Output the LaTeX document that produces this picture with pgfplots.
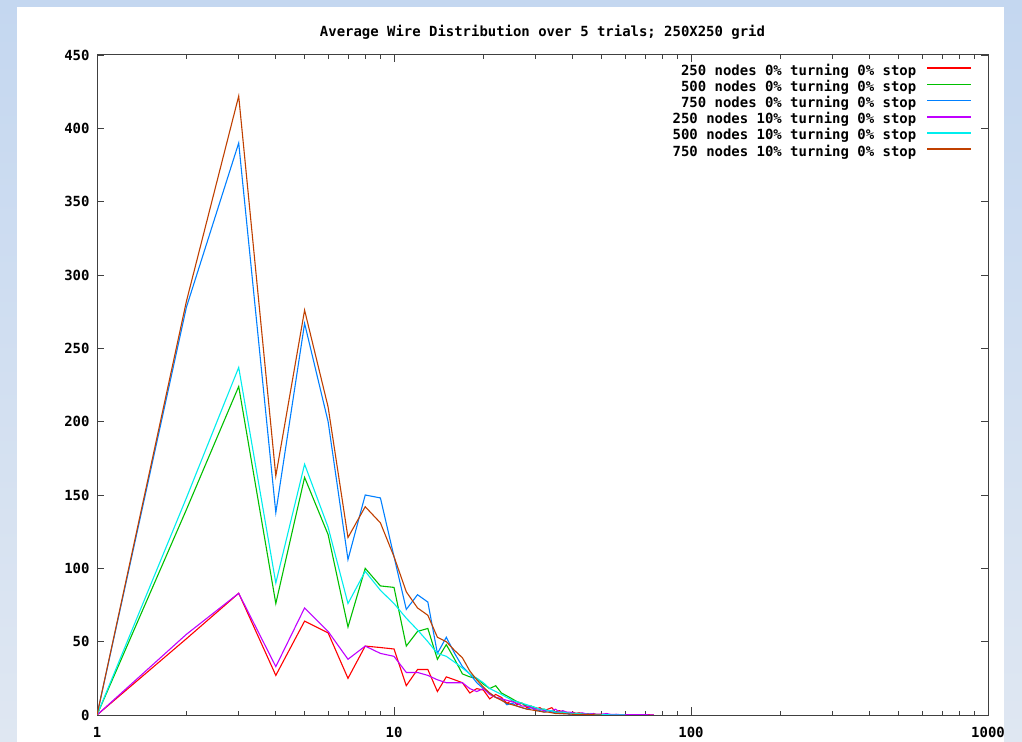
\documentclass[border=0pt]{standalone}
\usepackage{fontspec}
\usepackage{pgfplots}
\pgfplotsset{compat=1.18}
\newfontfamily\gpfont{DejaVu Sans Mono}
\newcommand{\gp}{\gpfont\bfseries\fontsize{14}{16}\selectfont}

\definecolor{gpred}{HTML}{FF0000}
\definecolor{gpgreen}{HTML}{00C000}
\definecolor{gpblue}{HTML}{0080FF}
\definecolor{gpmagenta}{HTML}{C000FF}
\definecolor{gpcyan}{HTML}{00EEEE}
\definecolor{gporange}{HTML}{C04000}
\definecolor{bgtop}{HTML}{C4D7F0}
\definecolor{bgbot}{HTML}{DFE7F2}

\begin{document}
\begin{tikzpicture}
\useasboundingbox (0,0) rectangle (1022bp,742bp);
\shade[top color=bgtop, bottom color=bgbot] (0,0) rectangle (1022bp,742bp);
\fill[white] (17bp,0) rectangle (1004bp,735bp);

\begin{axis}[
    at={(97bp,27bp)}, anchor=south west,
    scale only axis,
    width=891bp, height=660bp,
    xmode=log,
    xmin=1, xmax=1000,
    ymin=0, ymax=450,
    xtick={1,10,100,1000},
    xticklabels={1,10,100,1000},
    minor xtick={2,3,4,5,6,7,8,9,20,30,40,50,60,70,80,90,200,300,400,500,600,700,800,900},
    ytick={0,50,100,150,200,250,300,350,400,450},
    tick align=inside,
    xtick pos=both, ytick pos=both,
    major tick length=7.5bp, minor tick length=4bp,
    axis line style={line width=1bp, black!75},
    every tick/.style={black!75, line width=0.8bp},
    /pgf/number format/assume math mode=true,
    ticklabel style={font=\gp},
    xticklabel style={anchor=center, yshift=-17bp},
    yticklabel style={anchor=east, xshift=-4bp},
    title={Average Wire Distribution over 5 trials; 250X250 grid},
    title style={font=\gp, anchor=center, yshift=17bp},
    legend plot pos=right,
    legend cell align=right,
    legend style={draw=none, fill=none, inner sep=0pt, font=\gp,
        at={(1,1)}, anchor=north east, xshift=-16bp, yshift=-10bp,
        row sep=3.2bp, column sep=10bp,
        nodes={inner sep=0pt, text height=10bp, text depth=3bp}},
    legend image code/.code={\draw[#1, line width=1.6bp] (0bp,3.5bp) -- (44bp,3.5bp);},
    every axis plot/.append style={line width=1.1bp},
]
\addplot[gpred] coordinates {
(1,0)(2,52)(3,83)(4,27)(5,64)(6,56)(7,25)(8,47)(9,46)(10,45)(11,20)(12,31)(13,31)(14,16)(15,26)(16,24)(17,22)(18,15)(19,18)(20,17)
(21,11)(22,14)(23,12)(24,8)(25,10)(26,7)(27,8)(28,5)(29,6)(30,4)(31,5)(32,3)(33,4)(34,5)(35,2)(36,3)(37,2)(38,2)(39,1)(40,2)
(41,1)(42,1.5)(43,1)(44,0.5)(45,1)(46,0.5)(47,1)(48,0.3)(50,0.5)(52,0.2)(55,0.3)(58,0.1)(60,0.2)(65,0)(70,0.3)(75,0)
};
\addlegendentry{250 nodes 0\% turning 0\% stop}
\addplot[gpgreen] coordinates {
(1,0)(2,140)(3,224)(4,76)(5,162)(6,123)(7,60)(8,100)(9,88)(10,87)(11,47)(12,57)(13,59)(14,38)(15,48)(16,38)(17,28)(18,26)(19,25)(20,21)
(21,18)(22,20)(23,15)(24,13)(25,11)(26,9)(27,8)(28,6)(29,6)(30,5)(31,4)(32,4)(33,3)(34,3)(35,2)(36,2)(37,2)(38,1.5)(39,1)(40,1)
(42,1)(44,0.5)(46,0.5)(48,0.3)(50,0.3)(55,0.1)(60,0)
};
\addlegendentry{500 nodes 0\% turning 0\% stop}
\addplot[gpblue] coordinates {
(1,0)(2,278)(3,390)(4,138)(5,267)(6,200)(7,106)(8,150)(9,148)(10,108)(11,72)(12,82)(13,77)(14,42)(15,53)(16,42)(17,33)(18,28)(19,22)(20,18)
(21,15)(22,12)(23,11)(24,7)(25,8)(26,6)(27,5)(28,4)(29,5)(30,3)(31,3)(32,2)(33,3)(34,2)(35,1.5)(36,1)(37,1)(38,1)(39,0.5)(40,1)
(42,0.5)(44,0.3)(46,0.2)(48,0.2)(50,0.1)(55,0)
};
\addlegendentry{750 nodes 0\% turning 0\% stop}
\addplot[gpmagenta] coordinates {
(1,0)(2,55)(3,83)(4,33)(5,73)(6,57)(7,38)(8,47)(9,42)(10,40)(11,29)(12,29)(13,27)(14,24)(15,22)(16,22)(17,22)(18,18)(19,16)(20,18)
(21,14)(22,12)(23,11)(24,10)(25,9)(26,8)(27,6)(28,6)(29,5)(30,4)(31,4)(32,3)(33,3)(34,3)(35,4)(36,2)(37,3)(38,2)(39,2)(40,1.5)
(41,1)(42,1)(43,1.5)(44,1)(45,0.5)(46,1)(48,0.5)(50,0.5)(52,1)(54,0.3)(56,0.5)(58,0.2)(60,0.3)(63,0.2)(66,0.3)(70,0.2)(75,0)
};
\addlegendentry{250 nodes 10\% turning 0\% stop}
\addplot[gpcyan] coordinates {
(1,0)(2,148)(3,237)(4,90)(5,171)(6,128)(7,76)(8,98)(9,85)(10,76)(11,66)(12,58)(13,50)(14,42)(15,40)(16,36)(17,32)(18,28)(19,25)(20,22)
(21,18)(22,16)(23,14)(24,12)(25,10)(26,9)(27,8)(28,7)(29,6)(30,5)(31,4)(32,4)(33,3)(34,3)(35,2)(36,2)(37,2)(38,1.5)(40,1)(42,1)
(44,0.5)(46,0.5)(48,0.3)(50,0.2)(55,0.1)(60,0)
};
\addlegendentry{500 nodes 10\% turning 0\% stop}
\addplot[gporange] coordinates {
(1,0)(2,282)(3,422)(4,163)(5,276)(6,210)(7,121)(8,142)(9,131)(10,108)(11,84)(12,73)(13,68)(14,53)(15,50)(16,44)(17,39)(18,30)(19,24)(20,19)
(21,15)(22,12)(23,10)(24,8)(25,7)(26,6)(27,5)(28,4)(29,3.5)(30,3)(31,2.5)(32,2)(33,2)(34,1.5)(35,1)(36,1)(38,0.8)(40,0.5)(42,0.4)(44,0.3)
(46,0.2)(48,0.1)(50,0)
};
\addlegendentry{750 nodes 10\% turning 0\% stop}
\end{axis}

\shade[top color=bgtop, bottom color=bgbot] (1004bp,0) rectangle (1022bp,742bp);
\end{tikzpicture}
\end{document}
